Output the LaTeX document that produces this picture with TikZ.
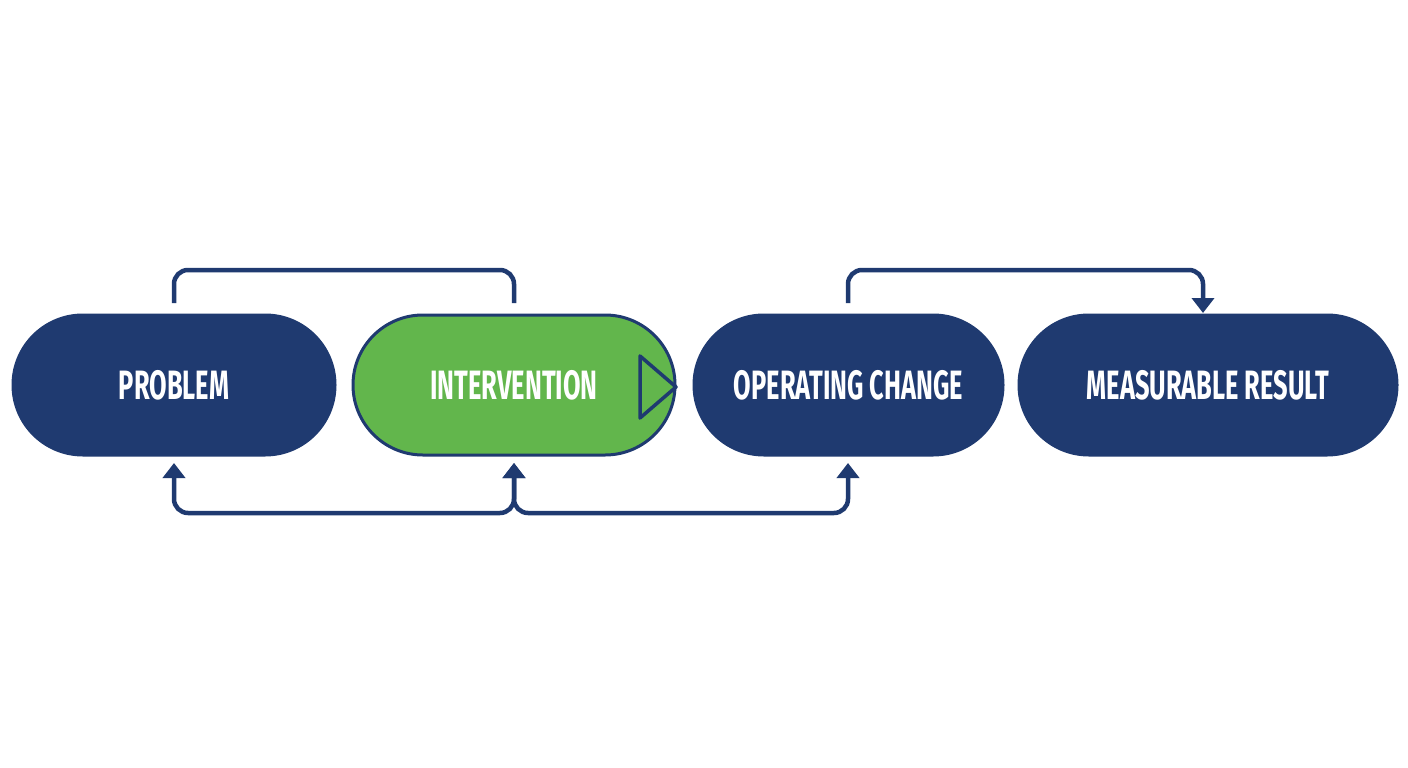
\documentclass[tikz,border=0pt]{standalone}
\usepackage{fontspec}
\setmainfont{Fira Sans}[UprightFont=* Bold, FakeStretch=0.62]
\usetikzlibrary{arrows.meta}
\definecolor{navy}{HTML}{1F3A70}
\definecolor{grn}{HTML}{62B64C}
\tikzset{
  pill/.style={rounded corners=69.9pt, fill=navy, draw=navy, line width=3pt, text=white, font=\fontsize{41}{43}\selectfont, inner sep=0pt},
  conn/.style={draw=navy, line width=4.5pt, rounded corners=14pt},
  tip/.style={-{Triangle[length=15pt,width=22pt]}},
  tips/.style={{Triangle[length=15pt,width=22pt]}-{Triangle[length=15pt,width=22pt]}}
}
\begin{document}
\begin{tikzpicture}[x=1pt,y=-1pt]
\useasboundingbox (0,0) rectangle (1408,768);
\fill[white] (0,0) rectangle (1408,768);
\node[pill, minimum width=322pt, minimum height=140pt] (p) at (174,385) {PROBLEM};
\node[pill, fill=grn, minimum width=322pt, minimum height=140pt] (i) at (514,385) {INTERVENTION};
\node[pill, minimum width=309pt, minimum height=140pt] (o) at (848.5,385) {OPERATING CHANGE};
\node[pill, minimum width=378pt, minimum height=140pt] (m) at (1208,385) {MEASURABLE RESULT};
\draw[navy, line width=3.5pt, line join=round] (640,356) -- (640,418) -- (676,387) -- cycle;
\coordinate (a1) at (174,303);
\coordinate (a2) at (514,303);
\coordinate (b1) at (848,303);
\coordinate (c1) at (174,463);
\coordinate (c2) at (514,463);
\coordinate (c3) at (848,463);
\draw[conn] (a1) -- (174,270) -- (514,270) -- (a2);
\draw[conn, tip] (b1) -- (848,270) -- (1203,270) -- (1203,313);
\draw[conn, tips] (c1) -- (174,513) -- (514,513) -- (c2);
\draw[conn, tips] (c3) -- (848,513) -- (514,513) -- (c2);
\end{tikzpicture}
\end{document}
